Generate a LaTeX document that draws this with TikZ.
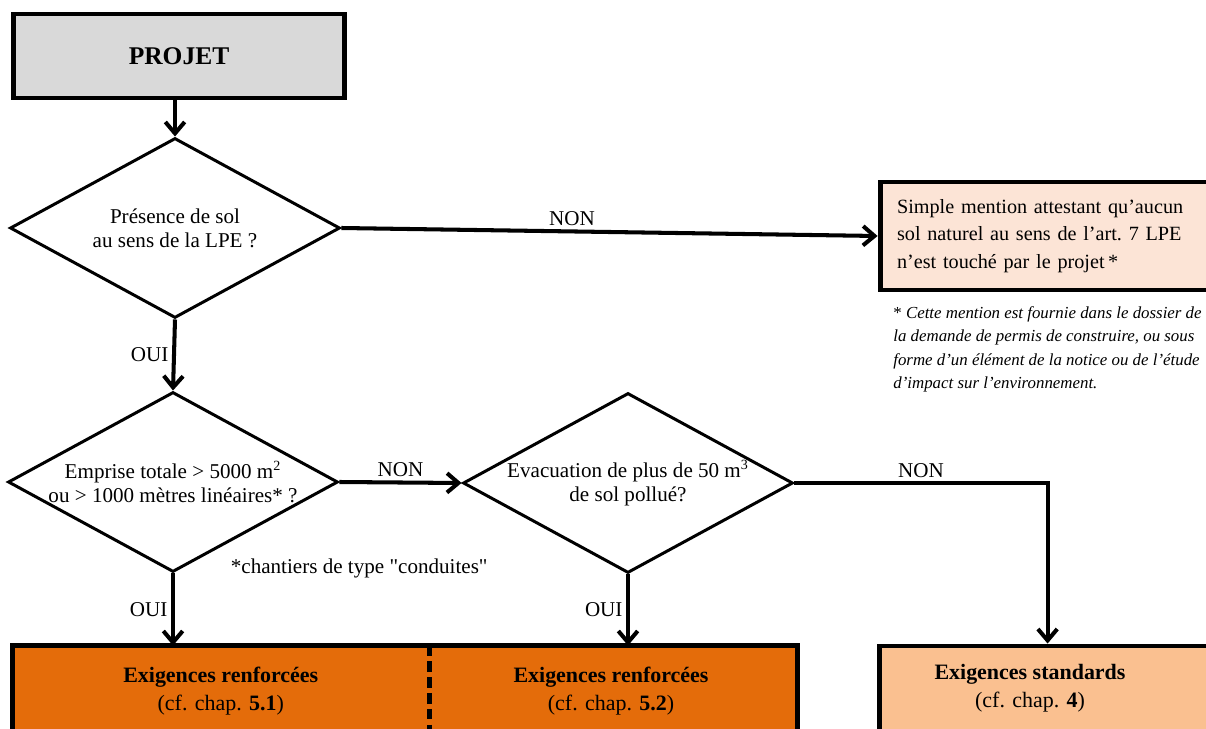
\documentclass[tikz,border=0pt]{standalone}
\usepackage{fontspec}
\setmainfont{Liberation Serif}
\usepackage{tikz}
\usetikzlibrary{arrows,arrows.meta,positioning,calc,shapes.geometric}
\definecolor{projgray}{HTML}{D9D9D9}
\definecolor{mentionpeach}{HTML}{FCE4D6}
\definecolor{renforange}{HTML}{E46C0A}
\definecolor{standpeach}{HTML}{FAC090}
\tikzstyle{question}=[draw,diamond,aspect=1.833,line width=1.7pt,inner sep=0pt,align=center,minimum width=6.6cm,minimum height=3.6cm,font=\fontsize{12}{13.6}\selectfont]
\tikzstyle{result}=[draw,rectangle,line width=2.8pt,inner sep=0pt]
\tikzstyle{flow}=[line width=2.3pt,-{Straight Barb[length=6.5pt,width=11pt]}]
\tikzstyle{answer}=[font=\fontsize{12}{14}\selectfont,inner sep=2pt]
\tikzstyle{restext}=[align=center,font=\fontsize{12.5}{16}\selectfont]

\begin{document}
\begin{tikzpicture}[x=0.02cm,y=-0.02cm]
\useasboundingbox (0,0) rectangle (1206,729);
\clip (0,0) rectangle (1206,729);

% start
\node [result,fill=projgray,minimum width=6.61cm,minimum height=1.68cm,
  font=\fontsize{14.5}{16}\bfseries] (projet) at (179,56) {PROJET};

% questions
\node [question] (sol) at (175,228) {Présence de sol\\au sens de la LPE ?};
\node [question] (emprise) at (173,482) {Emprise totale > 5000 m\textsuperscript{2}\\ou > 1000 mètres linéaires* ?};
\node [question] (evac) at (628,483) {Evacuation de plus de 50 m\textsuperscript{3}\\de sol pollué?};

% results
\node [result,fill=mentionpeach,minimum width=6.72cm,minimum height=2.16cm,
  text width=6.04cm,inner xsep=0.34cm,align=left,
  font=\fontsize{11.5}{15.6}\selectfont] (mention) at (1048,236)
  {Simple mention attestant qu’aucun\\sol naturel au sens de l’art.\ 7 LPE\\n’est touché par le projet\,*};
\node [anchor=north west,align=left,inner sep=0pt,
  font=\fontsize{9.6}{13.4}\selectfont] (note) at (893,306)
  {* \textit{Cette mention est fournie dans le dossier de}\\
   \textit{la demande de permis de construire, ou sous}\\
   \textit{forme d’un élément de la notice ou de l’étude}\\
   \textit{d’impact sur l’environnement.}};

\node [result,draw=none,fill=renforange,minimum width=8.25cm,minimum height=1.72cm,restext] (renf1) at (220.75,691)
  {\textbf{Exigences renforcées}\\(cf. chap. \textbf{5.1})};
\node [result,draw=none,fill=renforange,minimum width=7.36cm,minimum height=1.72cm,restext] (renf2) at (611,691)
  {\textbf{Exigences renforcées}\\(cf. chap. \textbf{5.2})};
\draw [line width=2.8pt] (renf1.north west) rectangle (renf2.south east);
\draw [line width=2.8pt,dash pattern=on 6pt off 3pt] (renf1.north east) -- (renf1.south east);

\node [result,fill=standpeach,minimum width=6.73cm,minimum height=1.76cm] (std) at (1047.75,690) {};
\node [restext] (stdtext) at (1030,688) {\textbf{Exigences standards}\\(cf. chap. \textbf{4})};

\node [answer,anchor=base west] (conduites) at ($(emprise.south)+(54,0)$) {*chantiers de type \textquotedbl conduites\textquotedbl};

% connectors
\draw [flow] (projet.south -| sol.north) -- (sol.north);
\draw [flow] (sol.east) -- node [answer,pos=0.43,above] {NON} (mention.west);
\draw [flow] (sol.south) -- node [answer,midway,left] {OUI} (emprise.north);
\draw [flow] (emprise.east) -- node [answer,midway,above] {NON} (evac.west);
\draw [flow] (emprise.south) -- node [answer,midway,left] {OUI} (emprise.south |- renf1.north);
\draw [flow] (evac.south) -- node [answer,midway,left] {OUI} (evac.south |- renf2.north);
\draw [flow] (evac.east) -| node [answer,pos=0.25,above] {NON} ($(std.north west)+(170.5,0)$);
\end{tikzpicture}
\end{document}
